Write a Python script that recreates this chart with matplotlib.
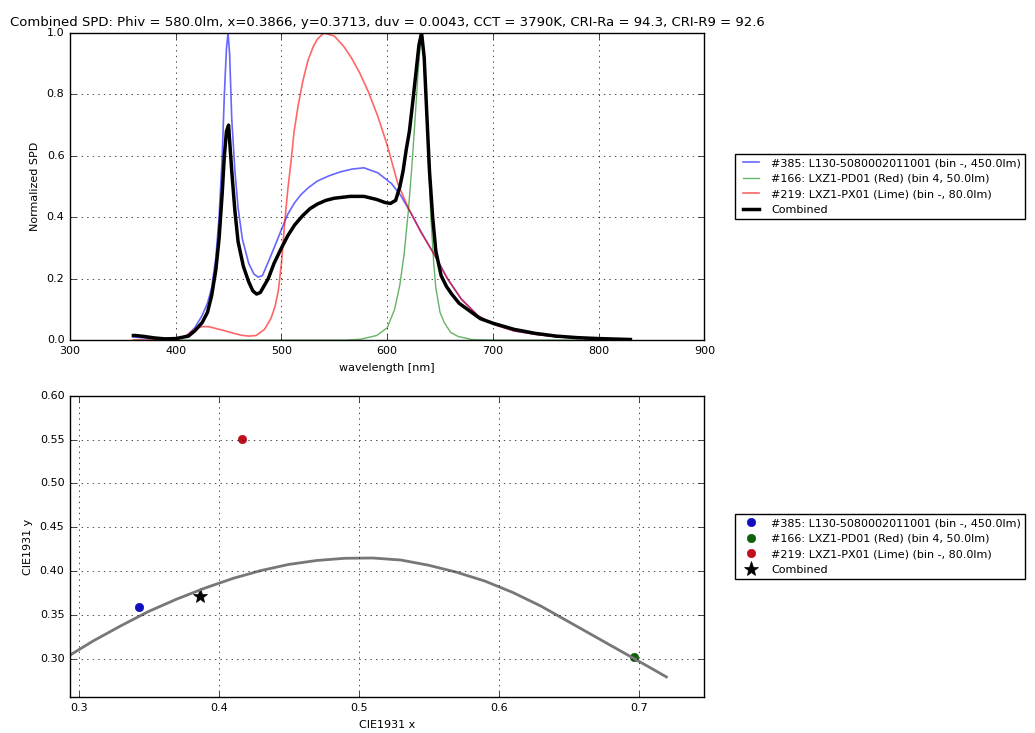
import matplotlib
matplotlib.use('Agg')
import matplotlib.pyplot as plt

plt.style.use('classic')
plt.rcParams['font.family'] = ['DejaVu Sans']
plt.rcParams['font.size'] = 8.0
plt.rcParams['xtick.labelsize'] = 8.0
plt.rcParams['ytick.labelsize'] = 8.0
plt.rcParams['axes.labelsize'] = 8.0
plt.rcParams['legend.fontsize'] = 8.0
plt.rcParams['figure.facecolor'] = 'white'

title = ('Combined SPD: Phiv = 580.0lm, x=0.3866, y=0.3713, duv = 0.0043, '
         'CCT = 3790K, CRI-Ra = 94.3, CRI-R9 = 92.6')

labels = ['#385: L130-5080002011001 (bin -, 450.0lm)',
          '#166: LXZ1-PD01 (Red) (bin 4, 50.0lm)',
          '#219: LXZ1-PX01 (Lime) (bin -, 80.0lm)',
          'Combined']

# spectra
wl_385 = [360, 380, 400, 410, 418, 425, 430, 434, 438, 441, 444, 446, 448, 449.5, 451,
          453, 456, 459, 463, 469, 474, 478, 482, 487, 493, 500, 506, 512, 518, 525,
          534, 545, 556, 567, 578, 591, 604, 613, 623, 632, 645, 657, 670, 686, 700,
          720, 740, 760, 780, 800, 830]
spd_385 = [0.01, 0.004, 0.005, 0.012, 0.04, 0.08, 0.12, 0.17, 0.27, 0.40, 0.60, 0.80,
           0.95, 1.0, 0.93, 0.72, 0.55, 0.43, 0.33, 0.25, 0.215, 0.205, 0.21, 0.25, 0.30,
           0.36, 0.41, 0.445, 0.472, 0.495, 0.518, 0.535, 0.548, 0.557, 0.561, 0.545,
           0.51, 0.47, 0.41, 0.353, 0.276, 0.20, 0.134, 0.079, 0.052, 0.03, 0.019,
           0.011, 0.007, 0.004, 0.002]

wl_166 = [360, 540, 560, 575, 590, 600, 607, 612, 616, 620, 623, 626, 629, 631, 633,
          635, 637, 639, 641.5, 644, 646, 650, 654, 660, 667, 680, 700, 830]
spd_166 = [0.0, 0.0, 0.0, 0.003, 0.015, 0.04, 0.10, 0.18, 0.28, 0.42, 0.55, 0.70, 0.86,
           0.95, 1.0, 0.93, 0.77, 0.58, 0.39, 0.25, 0.17, 0.09, 0.057, 0.025, 0.012,
           0.002, 0.0, 0.0]

wl_219 = [360, 390, 403, 412, 419, 425, 431, 440, 447, 455, 462, 469, 476, 484, 490,
          494, 497, 500, 503, 506, 509, 512, 515.6, 520, 525, 530, 534, 540, 545, 550,
          559, 566, 574, 582, 591, 600, 610, 620, 632, 645, 657, 670, 686, 700, 720,
          740, 760, 780, 800, 830]
spd_219 = [0.0, 0.0, 0.003, 0.02, 0.038, 0.044, 0.044, 0.036, 0.03, 0.022, 0.016, 0.013,
           0.015, 0.035, 0.07, 0.11, 0.16, 0.25, 0.38, 0.49, 0.58, 0.68, 0.76, 0.84,
           0.91, 0.955, 0.98, 1.0, 0.995, 0.99, 0.956, 0.92, 0.87, 0.81, 0.73, 0.635,
           0.51, 0.43, 0.35, 0.276, 0.20, 0.134, 0.079, 0.052, 0.03, 0.019, 0.011,
           0.007, 0.004, 0.002]

wl_comb = [360, 362, 370, 380, 390, 400, 412, 418, 425, 430, 434, 438, 441, 444, 446,
           448, 450, 453, 456, 459, 464, 469, 473, 476.5, 480, 487.5, 493, 500, 506,
           512.5, 520, 527, 534, 542, 550, 565, 578, 590, 598, 603, 608, 612, 615, 618,
           621, 624, 627.5, 630, 632.5, 635, 637, 640, 643, 646, 651, 656, 661, 668,
           676, 688, 700, 720, 740, 760, 780, 800, 830]
spd_comb = [0.015, 0.015, 0.012, 0.007, 0.004, 0.005, 0.013, 0.03, 0.057, 0.09, 0.145,
            0.23, 0.33, 0.48, 0.60, 0.68, 0.70, 0.55, 0.42, 0.32, 0.24, 0.19, 0.16,
            0.15, 0.155, 0.20, 0.25, 0.30, 0.34, 0.375, 0.405, 0.428, 0.443, 0.455,
            0.462, 0.468, 0.468, 0.458, 0.448, 0.445, 0.455, 0.50, 0.55, 0.62, 0.68,
            0.77, 0.88, 0.96, 1.0, 0.92, 0.77, 0.55, 0.40, 0.29, 0.21, 0.175, 0.15,
            0.12, 0.10, 0.07, 0.055, 0.035, 0.022, 0.013, 0.008, 0.005, 0.002]

# chromaticity points
pt_x = [0.343, 0.697, 0.4167, 0.3866]
pt_y = [0.359, 0.302, 0.551, 0.3713]
pt_colors = ['#1010c0', '#106010', '#c01020', 'black']
pt_markers = ['o', 'o', 'o', '*']

# blackbody locus
locus_x = [0.2934, 0.31, 0.33, 0.35, 0.37, 0.39, 0.41, 0.43, 0.45, 0.47, 0.49, 0.51,
           0.53, 0.55, 0.57, 0.59, 0.61, 0.63, 0.65, 0.67, 0.69, 0.71, 0.7198]
locus_y = [0.3038, 0.3200, 0.3375, 0.3540, 0.3680, 0.3805, 0.3915, 0.4005, 0.4075,
           0.4120, 0.4145, 0.4148, 0.4125, 0.4065, 0.3985, 0.3885, 0.3755, 0.3600,
           0.3420, 0.3240, 0.3060, 0.2880, 0.2790]

fig = plt.figure(figsize=(10.35, 7.33), dpi=100)

ax1 = fig.add_axes([0.0676, 0.536, 0.613, 0.419])
ax1.plot(wl_385, spd_385, color='b', alpha=0.6, lw=1.2, label=labels[0])
ax1.plot(wl_166, spd_166, color='g', alpha=0.6, lw=1.0, label=labels[1])
ax1.plot(wl_219, spd_219, color='r', alpha=0.6, lw=1.2, label=labels[2])
ax1.plot(wl_comb, spd_comb, color='k', lw=2.5, label=labels[3])
ax1.set_xlim(300, 900)
ax1.set_ylim(0, 1)
ax1.set_xlabel('wavelength [nm]')
ax1.set_ylabel('Normalized SPD')
ax1.set_title(title, fontsize=9.5)
ax1.grid(True)
ax1.legend(loc='center left', bbox_to_anchor=(1.04, 0.5), fancybox=False)

ax2 = fig.add_axes([0.0676, 0.049, 0.613, 0.411])
for i in range(len(pt_x)):
    ax2.plot(pt_x[i], pt_y[i], marker=pt_markers[i], color=pt_colors[i],
             markeredgecolor=pt_colors[i], linestyle='none',
             markersize=11 if pt_markers[i] == '*' else 6, label=labels[i])
ax2.plot(locus_x, locus_y, color='#777777', lw=2)
ax2.set_xlim(0.2935, 0.747)
ax2.set_ylim(0.256, 0.60)
ax2.set_yticks([0.30, 0.35, 0.40, 0.45, 0.50, 0.55, 0.60])
ax2.set_yticklabels(['0.30', '0.35', '0.40', '0.45', '0.50', '0.55', '0.60'])
ax2.set_xticks([0.3, 0.4, 0.5, 0.6, 0.7])
ax2.set_xlabel('CIE1931 x')
ax2.set_ylabel('CIE1931 y')
ax2.grid(True)
ax2.legend(loc='center left', bbox_to_anchor=(1.04, 0.5), fancybox=False, numpoints=1)

plt.savefig('out.png', dpi=100)
